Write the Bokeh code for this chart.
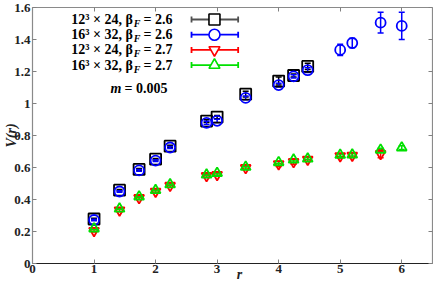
import math
from bokeh.plotting import figure
from bokeh.models import (ColumnDataSource, Whisker, TeeHead, LinearAxis,
                          FixedTicker, CustomJSTickFormatter, Range1d)
from bokeh.core.properties import value
from bokeh.embed import file_html
from bokeh.resources import INLINE

# ---------------- data ----------------
r_all = [1.0, 1.4142, 1.7321, 2.0, 2.2361, 2.8284, 3.0, 3.4641, 4.0,
         4.2426, 4.4721, 5.0, 5.1962, 5.6569, 6.0]

# 12^3 x 24, beta_F = 2.6 (black squares)
r_b26_12 = r_all[:11]
v_b26_12 = [0.278, 0.458, 0.588, 0.652, 0.733, 0.890, 0.915, 1.058, 1.140, 1.175, 1.232]
e_b26_12 = [0.005, 0.005, 0.005, 0.005, 0.006, 0.008, 0.010, 0.018, 0.025, 0.010, 0.020]

# 16^3 x 32, beta_F = 2.6 (blue circles)
r_b26_16 = r_all
v_b26_16 = [0.272, 0.450, 0.582, 0.643, 0.725, 0.879, 0.892, 1.035, 1.115, 1.170, 1.208,
            1.335, 1.378, 1.505, 1.485]
e_b26_16 = [0.005, 0.005, 0.005, 0.006, 0.007, 0.010, 0.010, 0.012, 0.012, 0.010, 0.015,
            0.035, 0.030, 0.065, 0.085]

# 12^3 x 24, beta_F = 2.7 (red down-triangles)
r_b27_12 = r_all[:14]
v_b27_12 = [0.205, 0.333, 0.410, 0.450, 0.487, 0.548, 0.555, 0.598, 0.622, 0.635, 0.650,
            0.672, 0.675, 0.686]
e_b27_12 = [0.008, 0.010, 0.010, 0.010, 0.010, 0.010, 0.010, 0.010, 0.015, 0.015, 0.012,
            0.012, 0.012, 0.025]

# 16^3 x 32, beta_F = 2.7 (green up-triangles)
r_b27_16 = r_all
v_b27_16 = [0.218, 0.342, 0.418, 0.458, 0.494, 0.555, 0.565, 0.603, 0.632, 0.648, 0.655,
            0.678, 0.680, 0.710, 0.724]
e_b27_16 = [0.005, 0.005, 0.005, 0.005, 0.005, 0.006, 0.006, 0.006, 0.007, 0.007, 0.007,
            0.008, 0.008, 0.010, 0.012]

series_names = ["12\u00b3 \u00d7 24, \u03b2", "16\u00b3 \u00d7 32, \u03b2",
                "12\u00b3 \u00d7 24, \u03b2", "16\u00b3 \u00d7 32, \u03b2"]
series_beta = ["= 2.6", "= 2.6", "= 2.7", "= 2.7"]
series_colors = ["black", "#0000ff", "#ff0000", "#00e000"]
series_markers = ["square", "circle", "inverted_triangle", "triangle"]
legend_line_colors = ["#505050", "#0000ff", "#ff0000", "#00e000"]

x_ticks = [0, 1, 2, 3, 4, 5, 6]
y_ticks = [0, 0.2, 0.4, 0.6, 0.8, 1.0, 1.2, 1.4, 1.6]

FONT = "Liberation Serif"

p = figure(width=433, height=284, output_backend="svg", toolbar_location=None,
           x_range=Range1d(0, 6.5), y_range=Range1d(0, 1.6),
           min_border_left=32, min_border_right=1, min_border_top=7, min_border_bottom=0)
p.title = None
p.xgrid.visible = False
p.ygrid.visible = False
p.outline_line_color = None
p.background_fill_color = "white"
p.border_fill_color = "white"

fmt = CustomJSTickFormatter(code="return (Math.round(tick*10)/10).toString();")
blank = CustomJSTickFormatter(code="return '';")

def style_axis(ax, line_color, labels=True):
    ax.axis_line_color = line_color
    ax.axis_line_width = 1.2
    ax.major_tick_in = 4
    ax.major_tick_out = 0
    ax.major_tick_line_color = "#808080"
    ax.minor_tick_in = 0
    ax.minor_tick_out = 0
    ax.major_label_text_font = FONT
    ax.major_label_text_font_style = "bold"
    ax.major_label_text_font_size = "13px"
    ax.major_label_text_color = "#222222"
    ax.major_label_standoff = 2 if labels else 0
    ax.axis_label_text_font = FONT
    ax.axis_label_text_font_style = "bold italic"
    ax.axis_label_text_font_size = "14px"
    ax.axis_label_text_color = "#222222"

xa = p.xaxis[0]
xa.ticker = FixedTicker(ticks=x_ticks)
xa.formatter = fmt
style_axis(xa, "#222222")
xa.major_label_standoff = 1
xa.axis_label = "\u2003r"
xa.axis_label_standoff = -9

ya = p.yaxis[0]
ya.ticker = FixedTicker(ticks=y_ticks)
ya.formatter = fmt
style_axis(ya, "#8a8a8a")
ya.axis_label = "V(r)"
ya.axis_label_standoff = -8

top_ax = LinearAxis(ticker=FixedTicker(ticks=x_ticks), formatter=blank)
style_axis(top_ax, "#8a8a8a", labels=False)
p.add_layout(top_ax, "above")
right_ax = LinearAxis(ticker=FixedTicker(ticks=y_ticks), formatter=blank)
style_axis(right_ax, "#8a8a8a", labels=False)
p.add_layout(right_ax, "right")

# ---------------- data marks ----------------
all_series = [(r_b26_12, v_b26_12, e_b26_12), (r_b26_16, v_b26_16, e_b26_16),
              (r_b27_12, v_b27_12, e_b27_12), (r_b27_16, v_b27_16, e_b27_16)]
sizes = [11, 10, 10, 10]
for (rr, vv, ee), col, mk, sz in zip(all_series, series_colors, series_markers, sizes):
    src = ColumnDataSource(dict(r=rr, v=vv,
                                lo=[a - b for a, b in zip(vv, ee)],
                                hi=[a + b for a, b in zip(vv, ee)]))
    p.scatter("r", "v", source=src, marker=mk, size=sz, line_color=col,
              line_width=1.8, fill_color=None)
    w = Whisker(base="r", lower="lo", upper="hi", source=src, dimension="height",
                line_color=col, line_width=1.5,
                upper_head=TeeHead(size=6, line_color=col, line_width=1.5),
                lower_head=TeeHead(size=6, line_color=col, line_width=1.5))
    p.add_layout(w)

# ---------------- manual legend (labels left, symbols right) ----------------
leg_y = [1.525, 1.430, 1.335, 1.240]
x_beta_end = 1.63
x_sub = 1.645
x_eq = 1.805
x_line0, x_line1, x_mark = 2.584, 3.342, 2.957
for i in range(4):
    yy = leg_y[i]
    p.text(x=[x_beta_end], y=[yy], text=[series_names[i]], text_font=value(FONT),
           text_font_style="bold", text_font_size="14px", text_align="right",
           text_baseline="middle", text_color="black")
    p.text(x=[x_sub], y=[yy], text=["F"], text_font=value(FONT),
           text_font_style="bold italic", text_font_size="10px", text_align="left",
           text_baseline="middle", y_offset=4, text_color="black")
    p.text(x=[x_eq], y=[yy], text=[series_beta[i]], text_font=value(FONT),
           text_font_style="bold", text_font_size="14px", text_align="left",
           text_baseline="middle", text_color="black")
    lc = legend_line_colors[i]
    p.segment(x0=[x_line0], y0=[yy], x1=[x_line1], y1=[yy], line_color=lc, line_width=1.8)
    p.scatter(x=[x_line0, x_line1], y=[yy, yy], marker="dash", angle=math.pi / 2,
              size=6, line_color=lc, line_width=1.8)
    p.scatter(x=[x_mark], y=[yy], marker=series_markers[i], size=11,
              line_color=series_colors[i], line_width=1.6, fill_color="white")

p.text(x=[1.446], y=[1.093], text=["m"], text_font=value(FONT),
       text_font_style="bold italic", text_font_size="14px", text_align="right",
       text_baseline="middle", text_color="black")
p.text(x=[1.495], y=[1.093], text=["= 0.005"], text_font=value(FONT),
       text_font_style="bold", text_font_size="14px", text_align="left",
       text_baseline="middle", text_color="black")

open("out.html", "w").write(file_html(p, INLINE))
